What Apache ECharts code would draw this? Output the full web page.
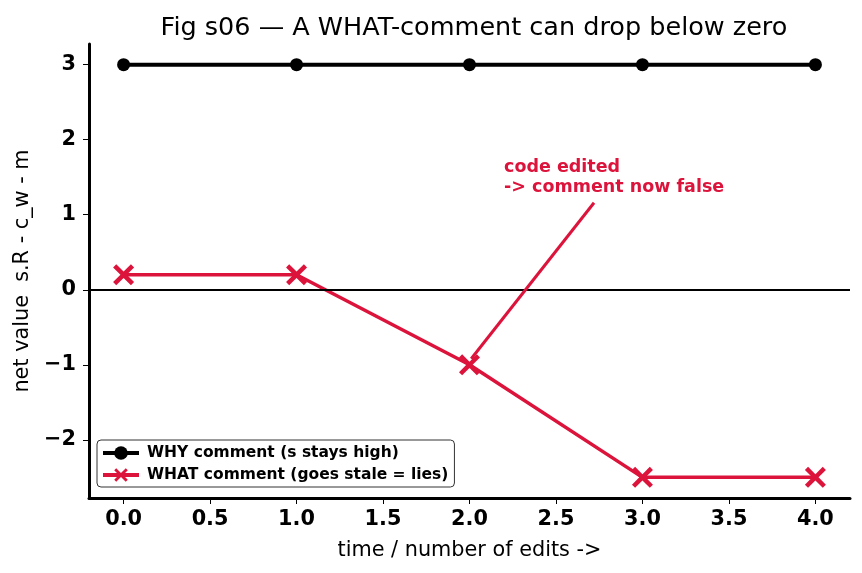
<!DOCTYPE html>
<html>
<head>
    <meta charset="utf-8">
    <title>Fig s06</title>
    <script src="https://cdn.jsdelivr.net/npm/echarts@6/dist/echarts.min.js"></script>
</head>
<body style="margin:0">
<div id="main" style="width: 862px;height:573px;"></div>
<script type="text/javascript">
    // data
    var edits = [0, 1, 2, 3, 4];
    var whyValues = [3, 3, 3, 3, 3];
    var whatValues = [0.2, 0.2, -1, -2.5, -2.5];
    var xTicks = [0, 0.5, 1, 1.5, 2, 2.5, 3, 3.5, 4];
    var yTicks = [-2, -1, 0, 1, 2, 3];
    var arrowFrom = [2.72, 1.16];
    var arrowTo = [2.01, -0.92];
    var notePos = [2.2, 1.5];
    var noteText = 'code edited\n-> comment now false';

    var crimson = '#DC143C';
    var font = 'DejaVu Sans';
    var xMark = 'path://M0,3 L3,0 L10,7 L17,0 L20,3 L13,10 L20,17 L17,20 L10,13 L3,20 L0,17 L7,10 Z';

    function pairs(xs, ys) {
        return xs.map(function (x, i) { return [x, ys[i]]; });
    }

    var option = {
        animation: false,
        title: {
            text: 'Fig s06 — A WHAT-comment can drop below zero',
            left: 469, textAlign: 'center', top: 10,
            textStyle: {fontFamily: font, fontSize: 25.5, fontWeight: 'normal', color: '#000'}
        },
        grid: {left: 89, top: 44, width: 761, height: 454, containLabel: false},
        legend: {
            orient: 'vertical', left: 97, top: 440,
            backgroundColor: '#fff', borderColor: '#333', borderWidth: 1, borderRadius: 4,
            padding: [5, 6, 4, 4], itemWidth: 36, itemHeight: 17, itemGap: 6,
            lineStyle: {width: 4},
            textStyle: {fontFamily: font, fontSize: 15.5, fontWeight: 'bold', color: '#000', padding: [0, 0, 0, 3]},
            data: ['WHY comment (s stays high)', 'WHAT comment (goes stale = lies)']
        },
        xAxis: {
            type: 'value', min: -0.2, max: 4.2,
            name: 'time / number of edits ->', nameLocation: 'middle', nameGap: 42,
            nameTextStyle: {fontFamily: font, fontSize: 20.8, color: '#000'},
            axisLine: {onZero: false, lineStyle: {color: '#000', width: 3}},
            axisTick: {show: true, length: 6, lineStyle: {color: '#000', width: 1}, customValues: xTicks},
            axisLabel: {
                fontFamily: font, fontSize: 20.8, fontWeight: 'bold', color: '#000', margin: 11,
                customValues: xTicks,
                formatter: function (v) { return v.toFixed(1); }
            },
            splitLine: {show: false}
        },
        yAxis: {
            type: 'value', min: -2.775, max: 3.275,
            name: 'net value  s.R - c_w - m', nameLocation: 'middle', nameGap: 56,
            nameTextStyle: {fontFamily: font, fontSize: 20.8, color: '#000'},
            axisLine: {show: true, onZero: false, lineStyle: {color: '#000', width: 3}},
            axisTick: {show: true, length: 6, lineStyle: {color: '#000', width: 1}, customValues: yTicks},
            axisLabel: {
                fontFamily: font, fontSize: 20.8, fontWeight: 'bold', color: '#000', margin: 13,
                customValues: yTicks,
                formatter: function (v) { return v < 0 ? '\u2212' + Math.abs(v) : String(v); }
            },
            splitLine: {show: false}
        },
        series: [
            {
                name: 'WHY comment (s stays high)',
                type: 'line',
                data: pairs(edits, whyValues),
                symbol: 'circle', symbolSize: 13,
                lineStyle: {color: '#000', width: 4},
                itemStyle: {color: '#000'},
                z: 3,
                markLine: {
                    silent: true, symbol: 'none',
                    label: {show: false},
                    lineStyle: {color: '#000', width: 2, type: 'solid'},
                    data: [{yAxis: 0}]
                }
            },
            {
                name: 'WHAT comment (goes stale = lies)',
                type: 'line',
                data: pairs(edits, whatValues),
                symbol: xMark, symbolSize: 21,
                lineStyle: {color: crimson, width: 3.5},
                itemStyle: {color: crimson},
                z: 4,
                markLine: {
                    silent: true, symbol: ['none', 'arrow'], symbolSize: [0, 11],
                    label: {show: false},
                    lineStyle: {color: crimson, width: 3, type: 'solid'},
                    data: [[{coord: arrowFrom}, {coord: arrowTo}]]
                },
                markPoint: {
                    silent: true, symbol: 'circle', symbolSize: 0,
                    data: [{coord: notePos}],
                    label: {
                        show: true, position: 'right', distance: 0,
                        formatter: noteText, align: 'left',
                        fontFamily: font, fontSize: 17.5, fontWeight: 'bold',
                        color: crimson, lineHeight: 20
                    }
                }
            }
        ]
    };

    var myChart = echarts.init(document.getElementById('main'));
    myChart.setOption(option);
</script>
</body>
</html>
